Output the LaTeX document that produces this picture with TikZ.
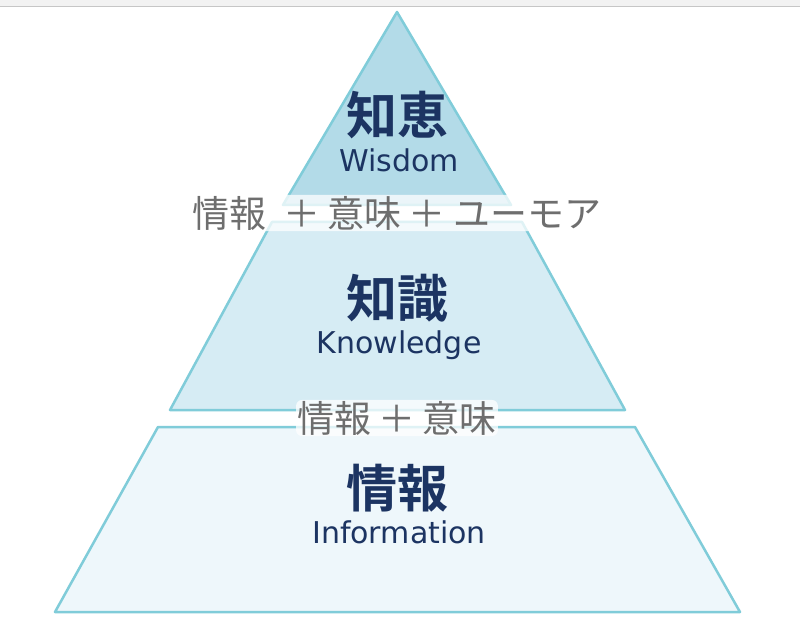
\documentclass[tikz,border=0pt]{standalone}
\usepackage{fontspec}
\newfontfamily\cjk{Noto Sans CJK JP}
\newfontfamily\cjkb{Noto Sans CJK JP Bold}
\setmainfont{DejaVu Sans}
\definecolor{edge}{HTML}{80CCD9}
\definecolor{f1}{HTML}{B3DBE8}
\definecolor{f2}{HTML}{D6ECF4}
\definecolor{f3}{HTML}{EEF7FB}
\definecolor{navy}{HTML}{1C3462}
\definecolor{gr}{HTML}{6E6E6E}
\tikzset{layer/.style={draw=edge,line width=2.5pt,line join=round},
 title/.style={text=navy,font=\cjkb\fontsize{51}{54}\selectfont,inner sep=0pt},
 sub/.style={text=navy,font=\fontsize{30}{33}\selectfont,inner sep=0pt},
 glue/.style={text=gr,font=\cjk\fontsize{37}{40}\selectfont,fill=white,fill opacity=0.75,text opacity=1,inner sep=1pt,rounded corners=6pt}}
\begin{document}
\begin{tikzpicture}[x=1pt,y=-1pt]
\useasboundingbox (0,0) rectangle (800,620);
\fill[white] (0,0) rectangle (800,620);
\fill[gray!10] (0,0) rectangle (800,6);
\draw[gray!45,line width=1pt] (0,6.5) -- (800,6.5);
\path[layer,fill=f1] (397,12) -- (511,205) -- (283,205) -- cycle;
\path[layer,fill=f2] (272,222) -- (522,222) -- (625,410) -- (170,410) -- cycle;
\path[layer,fill=f3] (158,427) -- (635,427) -- (740,612) -- (55,612) -- cycle;
\node[title] (w) at (397,115) {知恵};
\node[sub] (ws) at (399,160) {Wisdom};
\node[title] (k) at (397,298) {知識};
\node[sub] (ks) at (399,345) {Knowledge};
\node[title] (i) at (397,488) {情報};
\node[sub] (is) at (399,532) {Information};
\node[glue] (g1) at (397,213) {情報\hspace{0.45em}＋\hspace{0.2em}意味\hspace{0.2em}＋\hspace{0.2em}ユーモア};
\node[glue] (g2) at (397,418) {情報\hspace{0.2em}＋\hspace{0.2em}意味};
\end{tikzpicture}
\end{document}
